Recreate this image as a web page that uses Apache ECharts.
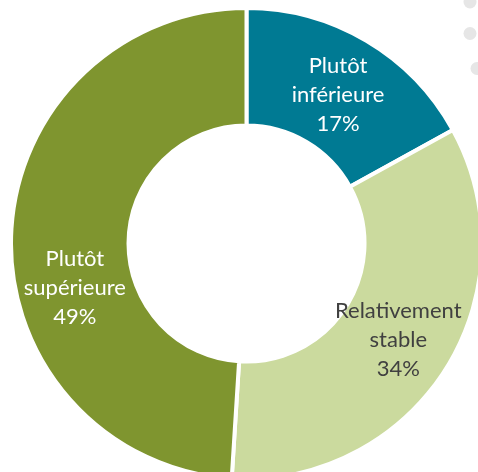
<!DOCTYPE html>
<html>
<head>
<meta charset="utf-8">
<script src="https://cdn.jsdelivr.net/npm/echarts@6/dist/echarts.min.js"></script>
<style>
html,body{margin:0;padding:0;background:#fff;}
#chart{width:478px;height:472px;}
</style>
</head>
<body>
<div id="chart"></div>
<script>
var categories = ['Plutôt inférieure', 'Relativement stable', 'Plutôt supérieure'];
var values = [17, 34, 49];
var colors = ['#007A93', '#CBDA9E', '#7F952F'];
var labelColors = ['#ffffff', '#404040', '#ffffff'];

// label nudges (vertical spacer height, horizontal spacer width), style only
var labelShift = [[12, 0], [0, 0], [100, 16]];

var chart = echarts.init(document.getElementById('chart'), null, {renderer: 'canvas'});

var data = categories.map(function (name, i) {
  var sh = labelShift[i];
  return {
    name: name,
    value: values[i],
    itemStyle: {color: colors[i]},
    label: {
      color: labelColors[i],
      rich: {
        sp: {lineHeight: sh[0] || 1, fontSize: 1, height: sh[0] || 1},
        pad: {width: sh[1], fontSize: 1}
      }
    }
  };
});

chart.setOption({
  animation: false,
  backgroundColor: '#ffffff',
  graphic: [
    {type: 'circle', shape: {cx: 470, cy: 2, r: 6.5}, style: {fill: '#E6E6E6'}, silent: true},
    {type: 'circle', shape: {cx: 470, cy: 33.5, r: 6.5}, style: {fill: '#E6E6E6'}, silent: true},
    {type: 'circle', shape: {cx: 477, cy: 68.5, r: 6.5}, style: {fill: '#E6E6E6'}, silent: true}
  ],
  series: [{
    type: 'pie',
    center: [246.5, 243.5],
    radius: [118, 235.5],
    startAngle: 90,
    clockwise: true,
    avoidLabelOverlap: false,
    itemStyle: {borderColor: '#ffffff', borderWidth: 4},
    label: {
      show: true,
      position: 'inside',
      fontFamily: 'Lato',
      fontSize: 22,
      lineHeight: 29,
      align: 'center',
      formatter: function (p) {
        var sh = labelShift[p.dataIndex];
        var lines = p.name.split(' ').concat([p.value + '%']);
        var pre = sh[1] ? '{pad| }' : '';
        var body = lines.map(function (l) { return pre + l; }).join('\n');
        return (sh[0] ? '{sp| }\n' : '') + body;
      }
    },
    labelLine: {show: false},
    emphasis: {disabled: true},
    data: data
  }]
});
</script>
</body>
</html>
